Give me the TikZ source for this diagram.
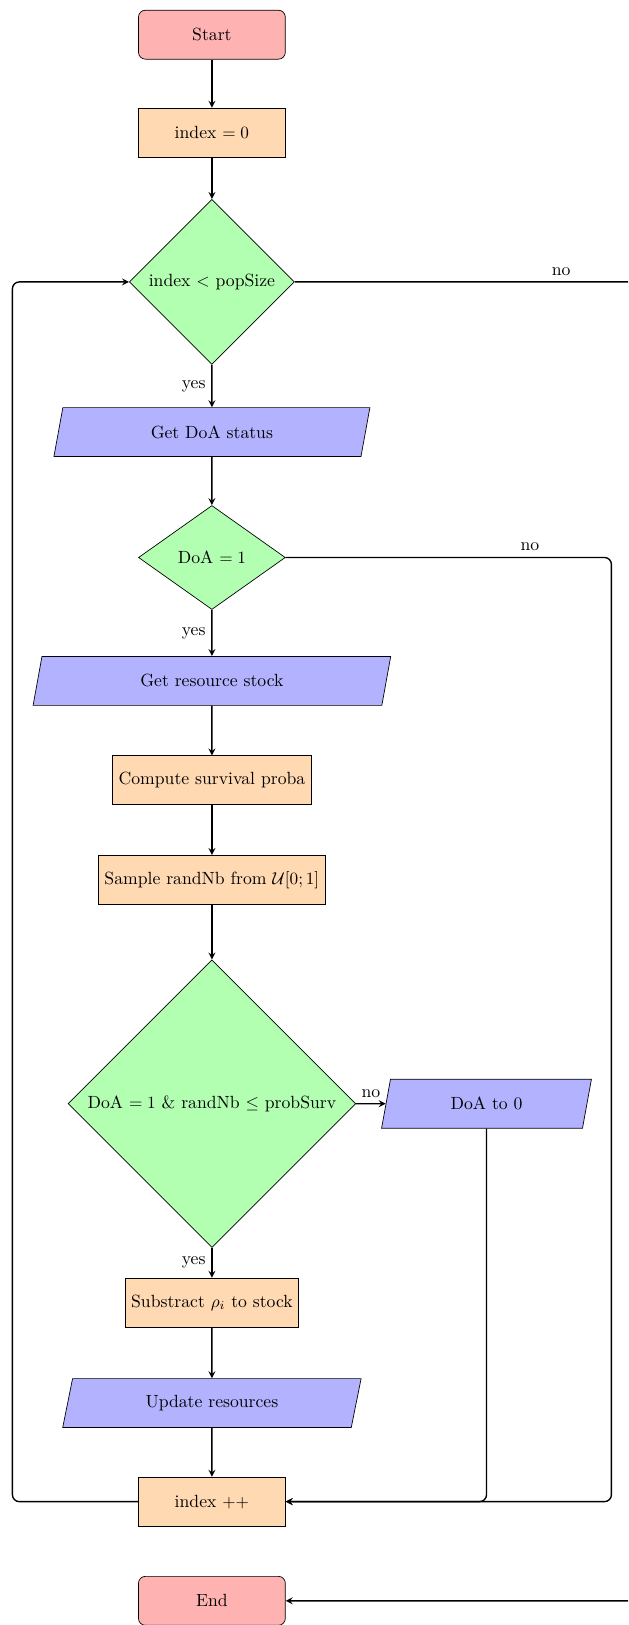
\documentclass[tikz,border=0pt]{standalone}
\usetikzlibrary{shapes.geometric,arrows}
\begin{document}
\begin{tikzpicture}[x=0.5814pt,y=-0.5814pt,
  every node/.append style={font=\fontsize{10.27pt}{12.7pt}\selectfont},
  startstop/.style={rectangle, rounded corners, minimum width=3cm, minimum height=1cm, text centered, draw=black, fill=red!30},
  process/.style={rectangle, minimum width=3cm, minimum height=1cm, text centered, draw=black, fill=orange!30},
  io/.style={trapezium, trapezium left angle=70, trapezium right angle=110, trapezium stretches body, minimum height=1cm, text centered, draw=black, fill=blue!30},
  decision/.style={diamond, minimum width=3cm, minimum height=1cm, text centered, draw=black, fill=green!30},
  arrow/.style={thick,->,>=stealth},
  loopline/.style={thick,->,>=stealth,rounded corners=4pt},
]
\useasboundingbox (0,0) rectangle (628,1625);
\clip (0,0) rectangle (628,1625);

\node[startstop] (start) at (211.9,34.7) {Start};
\node[process] (init) at (211.9,132.6) {index $=0$};
\node[decision] (dec1) at (211.9,281.9) {index $<$ popSize};
\node[io, minimum width=183.7pt] (getdoa) at (211.9,432.1) {Get DoA status};
\node[decision] (dec2) at (211.9,557.5) {DoA $=1$};
\node[io, minimum width=207.9pt] (getres) at (211.9,680.9) {Get resource stock};
\node[process] (comp) at (211.9,780.3) {Compute survival proba};
\node[process] (sample) at (211.9,879.8) {Sample randNb from $\mathcal{U}[0;1]$};
\node[decision] (dec3) at (211.9,1103.7) {DoA $=1$ \& randNb $\leq$ probSurv};
\node[io, minimum width=122pt] (doa0) at (486.5,1103.7) {DoA to 0};
\node[process] (sub) at (211.9,1302.6) {Substract $\rho_i$ to stock};
\node[io, minimum width=173.5pt] (upd) at (211.9,1403.1) {Update resources};
\node[process] (inc) at (211.9,1501.6) {index $++$};
\node[startstop] (end) at (211.9,1600.8) {End};

\coordinate (rightB) at (650,281.9);
\coordinate (rightA) at (611.4,557.5);
\coordinate (leftB) at (12.4,281.9);

\draw[arrow] (start) -- (init);
\draw[arrow] (init) -- (dec1);
\draw[arrow] (dec1) -- node[left]{yes} (getdoa);
\draw[arrow] (getdoa) -- (dec2);
\draw[arrow] (dec2) -- node[left]{yes} (getres);
\draw[arrow] (getres) -- (comp);
\draw[arrow] (comp) -- (sample);
\draw[arrow] (sample) -- (dec3);
\draw[arrow] (dec3.east) -- node[above]{no} (doa0.west);
\draw[arrow] (dec3) -- node[left]{yes} (sub);
\draw[arrow] (sub) -- (upd);
\draw[arrow] (upd) -- (inc);

\draw[loopline] (dec1.east) -- node[near end, above]{no} (rightB) |- (end.east);
\draw[loopline] (dec2.east) -- node[near end, above]{no} (rightA) |- (inc.east);
\draw[loopline] (doa0.south) |- (inc.east);
\draw[loopline] (inc.west) -| (leftB) -- (dec1.west);
\end{tikzpicture}
\end{document}
